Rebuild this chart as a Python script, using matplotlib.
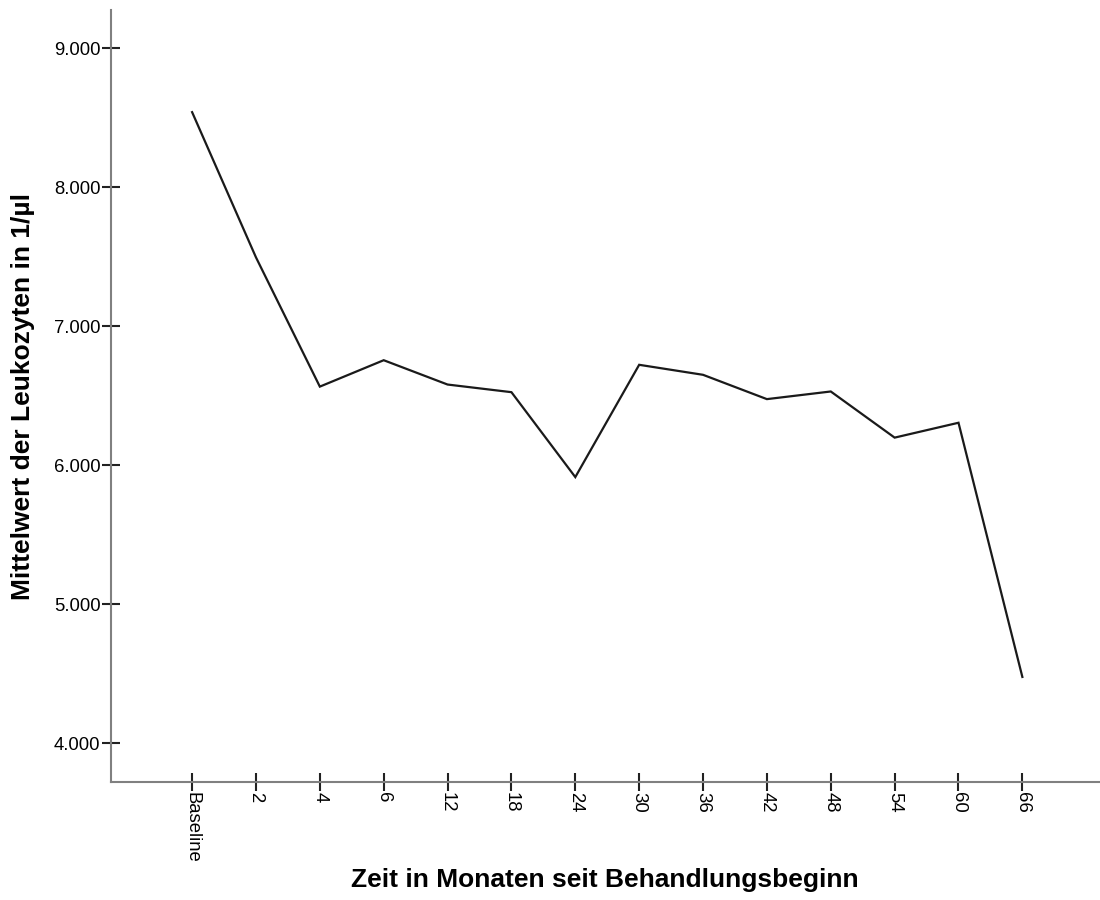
import matplotlib
matplotlib.use("Agg")
import matplotlib.pyplot as plt

categories = ["Baseline", "2", "4", "6", "12", "18", "24", "30", "36", "42", "48", "54", "60", "66"]
values = [8540, 7495, 6565, 6755, 6580, 6525, 5914, 6722, 6650, 6475, 6530, 6198, 6305, 4476]
yticks = [4000, 5000, 6000, 7000, 8000, 9000]
ytick_labels = ["4.000", "5.000", "6.000", "7.000", "8.000", "9.000"]

plt.rcParams['font.family'] = ['Liberation Sans', 'DejaVu Sans']

fig = plt.figure(figsize=(11, 9), dpi=100)
ax = fig.add_axes([111/1100, 1 - 782/900, (1099 - 111)/1100, (782 - 10)/900])

x = list(range(len(categories)))
ax.plot(x, values, color="#1a1a1a", linewidth=1.6, solid_joinstyle="miter")

ax.set_xlim(-1.27, 14.2)
ax.set_ylim(3720, 9275)
ax.set_xticks(x)
ax.set_xticklabels(categories, rotation=270, fontsize=13.3, va="top", ha="center")
ax.set_yticks(yticks)
ax.set_yticklabels(ytick_labels, fontsize=13.3)

for s in ["top", "right"]:
    ax.spines[s].set_visible(False)
for s in ["left", "bottom"]:
    ax.spines[s].set_color("#808080")
    ax.spines[s].set_linewidth(1.5)

ax.tick_params(axis="both", direction="inout", length=13, width=1.5, color="#222222", pad=1)

ax.set_xlabel("Zeit in Monaten seit Behandlungsbeginn", fontsize=19, fontweight="bold")
ax.set_ylabel("Mittelwert der Leukozyten in 1/µl", fontsize=19, fontweight="bold")
ax.yaxis.set_label_coords(-(111 - 23) / 988, 0.5)
ax.yaxis.label.set_va("center")
ax.xaxis.set_label_coords(0.5, -(880 - 782) / 772)
ax.xaxis.label.set_va("center")

fig.savefig("out.png", dpi=100, facecolor="white")
